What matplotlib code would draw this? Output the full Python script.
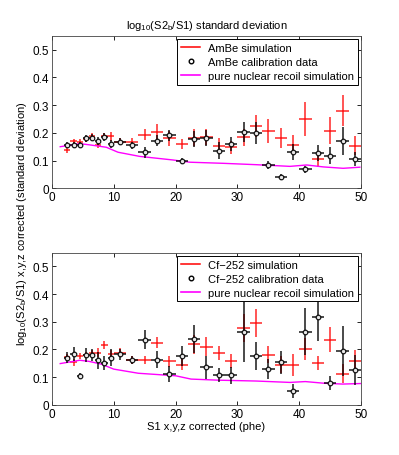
import matplotlib
matplotlib.use("Agg")
import matplotlib.pyplot as plt
from matplotlib.lines import Line2D
import numpy as np

plt.rcParams['font.family'] = ['Liberation Sans', 'DejaVu Sans']
plt.rcParams['font.size'] = 8
plt.rcParams['mathtext.fontset'] = 'custom'
plt.rcParams['mathtext.rm'] = 'Liberation Sans'
plt.rcParams['mathtext.it'] = 'Liberation Sans'

# bin centres and half widths (S1 phe)
x = [2.5, 3.5, 4.5, 5.5, 6.5, 7.5, 8.5, 9.5,
     11, 13, 15, 17, 19, 21, 23, 25, 27, 29, 31, 33, 35, 37, 39, 41, 43, 45, 47, 49]
xerr = [0.5] * 8 + [1] * 20

# top panel: AmBe
ambe_sim = [0.139, 0.169, 0.168, 0.178, 0.187, 0.156, 0.187, 0.187,
            0.168, 0.166, 0.193, 0.203, 0.180, 0.161, 0.183, 0.185, 0.154, 0.148,
            0.184, 0.226, 0.207, 0.183, 0.157, 0.249, 0.106, 0.208, 0.280, 0.154]
ambe_sim_err = [0.01, 0.01, 0.01, 0.01, 0.012, 0.012, 0.012, 0.015,
                0.012, 0.015, 0.02, 0.03, 0.027, 0.018, 0.03, 0.03, 0.027, 0.024,
                0.03, 0.04, 0.042, 0.036, 0.036, 0.062, 0.03, 0.048, 0.055, 0.035]
ambe_data = [0.157, 0.157, 0.157, 0.180, 0.183, 0.171, 0.185, 0.160,
             0.168, 0.155, 0.130, 0.172, 0.192, 0.099, 0.178, 0.181, 0.136, 0.159,
             0.203, 0.198, 0.083, 0.041, 0.131, 0.068, 0.127, 0.118, 0.170, 0.106]
ambe_data_err = [0.01, 0.01, 0.01, 0.012, 0.012, 0.015, 0.015, 0.015,
                 0.012, 0.012, 0.02, 0.02, 0.02, 0.01, 0.03, 0.03, 0.03, 0.025,
                 0.036, 0.04, 0.015, 0.01, 0.03, 0.012, 0.03, 0.03, 0.05, 0.025]
nr_x_top = [1.35, 4.5, 6.0, 8.8, 10.7, 14.2, 19.6, 22.3, 27.7, 33.1, 38.5, 41.2, 43.9, 47.1, 49.8]
nr_y_top = [0.150, 0.161, 0.157, 0.148, 0.130, 0.115, 0.102, 0.094, 0.090, 0.085, 0.079, 0.084, 0.077, 0.072, 0.076]

# bottom panel: Cf-252
cf_sim = [0.171, 0.153, 0.177, 0.180, 0.187, 0.189, 0.216, 0.183,
          0.189, 0.163, 0.163, 0.225, 0.157, 0.145, 0.218, 0.210, 0.186, 0.159,
          0.277, 0.296, 0.181, 0.145, 0.145, 0.201, 0.151, 0.235, 0.113, 0.159]
cf_sim_err = [0.012, 0.012, 0.012, 0.012, 0.012, 0.015, 0.015, 0.015,
              0.015, 0.015, 0.015, 0.02, 0.02, 0.02, 0.035, 0.035, 0.025, 0.025,
              0.05, 0.05, 0.03, 0.03, 0.04, 0.04, 0.025, 0.045, 0.035, 0.04]
cf_data = [0.170, 0.183, 0.105, 0.180, 0.180, 0.161, 0.151, 0.170,
           0.183, 0.163, 0.235, 0.163, 0.112, 0.177, 0.239, 0.135, 0.108, 0.106,
           0.263, 0.177, 0.130, 0.153, 0.049, 0.264, 0.317, 0.078, 0.193, 0.125]
cf_data_err = [0.02, 0.025, 0.01, 0.025, 0.02, 0.03, 0.025, 0.03,
               0.02, 0.015, 0.035, 0.03, 0.03, 0.035, 0.05, 0.04, 0.025, 0.03,
               0.11, 0.05, 0.035, 0.04, 0.025, 0.085, 0.085, 0.025, 0.09, 0.055]
nr_x_bot = [1.35, 4.5, 6.0, 8.0, 10.0, 14.0, 20.0, 22.5, 27.0, 33.0, 38.5, 41.0, 44.0, 47.0, 50.0]
nr_y_bot = [0.149, 0.161, 0.157, 0.147, 0.129, 0.114, 0.105, 0.093, 0.089, 0.086, 0.081, 0.084, 0.078, 0.075, 0.077]

fig = plt.figure(figsize=(3.99, 4.56), dpi=100)
ax1 = fig.add_axes([0.130, 0.585, 0.775, 0.334])
ax2 = fig.add_axes([0.130, 0.110, 0.775, 0.334])


def panel(ax, sim, sim_err, data, data_err, nx, ny, name):
    ax.errorbar(x, sim, yerr=sim_err, xerr=xerr, fmt='none', ecolor='red',
                elinewidth=1.1, capsize=0, alpha=0.85, zorder=2)
    ax.errorbar(x, data, yerr=data_err, xerr=xerr, fmt='o', color='black',
                ecolor='black', elinewidth=1.1, capsize=0, markersize=3.3,
                markerfacecolor='white', markeredgewidth=0.9, alpha=0.9, zorder=3)
    ax.plot(nx, ny, color='magenta', linewidth=1.0, zorder=2.5)
    ax.set_xlim(0, 50)
    ax.set_ylim(0, 0.55)
    ax.set_xticks([0, 10, 20, 30, 40, 50])
    ax.set_yticks([0, 0.1, 0.2, 0.3, 0.4, 0.5])
    ax.set_yticklabels(['0', '0.1', '0.2', '0.3', '0.4', '0.5'])
    ax.tick_params(direction='in', top=True, right=True, length=3, width=0.6,
                   labelsize=8.5, pad=2)
    for s in ax.spines.values():
        s.set_linewidth(0.6)
        s.set_color('#444444')
    handles = [Line2D([], [], color='red', linewidth=1.1),
               Line2D([], [], linestyle='none', marker='o', markersize=3.3,
                      markerfacecolor='white', markeredgecolor='black'),
               Line2D([], [], color='magenta', linewidth=1.2)]
    labels = [name + ' simulation', name + ' calibration data',
              'pure nuclear recoil simulation']
    leg = ax.legend(handles, labels, loc='upper right', fontsize=8,
                    fancybox=False, framealpha=1, edgecolor='black',
                    borderpad=0.35, labelspacing=0.35, handlelength=1.7,
                    handletextpad=0.7, borderaxespad=0.3)
    leg.get_frame().set_linewidth(0.7)
    leg.set_zorder(5)


panel(ax1, ambe_sim, ambe_sim_err, ambe_data, ambe_data_err, nr_x_top, nr_y_top, 'AmBe')
panel(ax2, cf_sim, cf_sim_err, cf_data, cf_data_err, nr_x_bot, nr_y_bot, 'Cf\u2212252')

ax1.set_title(r'log$_{10}$(S2$_{\rm b}$/S1) standard deviation', fontsize=8, pad=6)
ax2.set_xlabel('S1 x,y,z corrected (phe)', fontsize=8, labelpad=1)
fig.text(0.055, 1 - 224 / 456, r'log$_{10}$(S2$_{\rm b}$/S1) x,y,z corrected (standard deviation)',
         rotation=90, ha='center', va='center', fontsize=8)

fig.savefig('out.png', dpi=100)
